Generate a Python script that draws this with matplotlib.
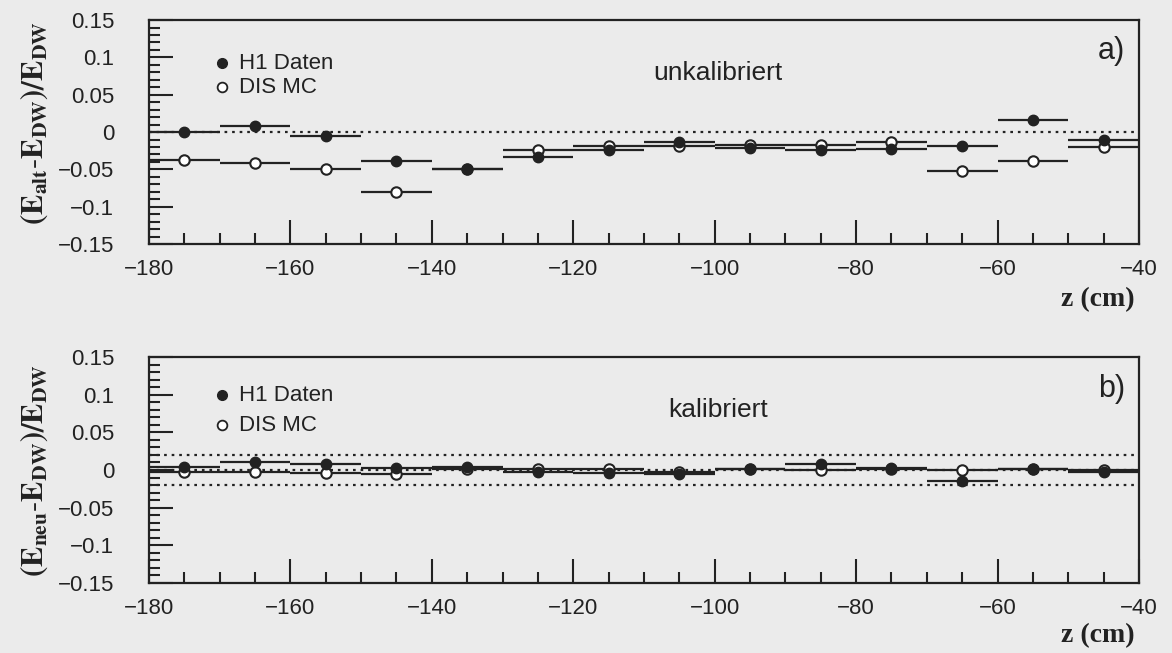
import matplotlib
matplotlib.use('Agg')
import matplotlib.pyplot as plt
from matplotlib.ticker import MultipleLocator

plt.rcParams['mathtext.fontset'] = 'stix'
plt.rcParams['font.family'] = 'Liberation Sans'

# bin centres (cm), bins are 10 cm wide
z = [-175, -165, -155, -145, -135, -125, -115, -105, -95, -85, -75, -65, -55, -45]

# a) unkalibriert
alt_h1 = [0.000, 0.008, -0.005, -0.039, -0.050, -0.033, -0.024, -0.013, -0.022, -0.024, -0.023, -0.019, 0.016, -0.010]
alt_mc = [-0.037, -0.042, -0.050, -0.080, -0.050, -0.024, -0.019, -0.019, -0.017, -0.018, -0.014, -0.052, -0.039, -0.020]
alt_h1_err = [0.002, 0.003, 0.002, 0.003, 0.003, 0.002, 0.002, 0.003, 0.003, 0.002, 0.003, 0.002, 0.004, 0.003]
alt_mc_err = [0.002, 0.002, 0.002, 0.002, 0.002, 0.002, 0.002, 0.002, 0.002, 0.002, 0.002, 0.002, 0.002, 0.002]

# b) kalibriert
neu_h1 = [0.004, 0.010, 0.008, 0.003, 0.004, -0.002, -0.004, -0.005, 0.002, 0.008, 0.003, -0.015, 0.002, -0.002]
neu_mc = [-0.002, -0.002, -0.004, -0.005, 0.002, 0.002, 0.002, -0.002, 0.001, 0.000, 0.002, 0.000, 0.001, 0.000]
neu_h1_err = [0.002, 0.003, 0.002, 0.003, 0.003, 0.002, 0.003, 0.003, 0.002, 0.003, 0.002, 0.003, 0.004, 0.003]
neu_mc_err = [0.002, 0.002, 0.002, 0.002, 0.002, 0.002, 0.002, 0.002, 0.002, 0.002, 0.002, 0.002, 0.002, 0.002]

ink = '#222222'
bg = '#ebebeb'

fig = plt.figure(figsize=(11.72, 6.53), dpi=100, facecolor=bg)
ax1 = fig.add_axes([0.1271, 0.6263, 0.8447, 0.343])
ax2 = fig.add_axes([0.1271, 0.1072, 0.8447, 0.346])


def panel(ax, h1, mc, h1e, mce, dotted, label, letter, leg_y):
    ax.set_facecolor(bg)
    for y in dotted:
        ax.axhline(y, color=ink, lw=1.6, ls=(0, (1.2, 2.2)), zorder=1)
    ax.errorbar(z, mc, xerr=5, yerr=mce, fmt='o', ms=7.5, mfc='white', mec=ink,
                mew=1.5, color=ink, elinewidth=1.6, capsize=0, zorder=3)
    ax.errorbar(z, h1, xerr=5, yerr=h1e, fmt='o', ms=7.5, mfc=ink, mec=ink,
                color=ink, elinewidth=1.6, capsize=0, zorder=4)
    ax.set_xlim(-180, -40)
    ax.set_ylim(-0.15, 0.15)
    ax.xaxis.set_minor_locator(MultipleLocator(5))
    ax.yaxis.set_minor_locator(MultipleLocator(0.01))
    ax.set_yticks([0.15, 0.1, 0.05, 0, -0.05, -0.1, -0.15])
    ax.set_yticklabels(['0.15', '0.1', '0.05', '0', '\u22120.05', '\u22120.1', '\u22120.15'])
    ax.set_xticks([-180, -160, -140, -120, -100, -80, -60, -40])
    ax.set_xticklabels(['\u2212180', '\u2212160', '\u2212140', '\u2212120', '\u2212100', '\u221280', '\u221260', '\u221240'])
    ax.tick_params(axis='both', which='both', direction='in', color=ink, labelcolor=ink,
                   labelsize=16, top=False, right=False)
    ax.tick_params(axis='y', which='major', length=17, width=1.5, pad=25)
    ax.tick_params(axis='y', which='minor', length=8, width=1.5)
    ax.tick_params(axis='x', which='major', length=17, width=1.5, pad=11)
    ax.tick_params(axis='x', which='minor', length=8, width=1.5)
    for s in ax.spines.values():
        s.set_color(ink)
        s.set_linewidth(1.6)

    # legend drawn by hand, as in the original
    ax.plot([0.0737], [leg_y[0]], 'o', ms=7, mfc=ink, mec=ink, transform=ax.transAxes, clip_on=False)
    ax.plot([0.0737], [leg_y[1]], 'o', ms=7, mfc='white', mec=ink, mew=1.3, transform=ax.transAxes, clip_on=False)
    ax.text(0.091, leg_y[0], 'H1 Daten', transform=ax.transAxes, fontsize=16, color=ink, va='center')
    ax.text(0.091, leg_y[1], 'DIS MC', transform=ax.transAxes, fontsize=16, color=ink, va='center')
    ax.text(0.575, 0.765, label, transform=ax.transAxes, fontsize=19, color=ink, ha='center', va='center')
    ax.text(0.972, 0.86, letter, transform=ax.transAxes, fontsize=22, color=ink, ha='center', va='center')


panel(ax1, alt_h1, alt_mc, alt_h1_err, alt_mc_err, [0.0], 'unkalibriert', 'a)', (0.808, 0.701))
panel(ax2, neu_h1, neu_mc, neu_h1_err, neu_mc_err, [0.02, 0.0, -0.02], 'kalibriert', 'b)', (0.832, 0.699))

fig.text(0.029, 0.812, r'$\mathbf{(E_{alt}\text{-}E_{DW})/E_{DW}}$', rotation=90,
         fontsize=22, color=ink, ha='center', va='center')
fig.text(0.029, 0.28, r'$\mathbf{(E_{neu}\text{-}E_{DW})/E_{DW}}$', rotation=90,
         fontsize=22, color=ink, ha='center', va='center')
fig.text(0.9684, 0.5406, 'z (cm)', family='Liberation Serif', weight='bold',
         fontsize=20, color=ink, ha='right', va='center')
fig.text(0.9684, 0.026, 'z (cm)', family='Liberation Serif', weight='bold',
         fontsize=20, color=ink, ha='right', va='center')

fig.savefig('out.png', dpi=100, facecolor=bg)
